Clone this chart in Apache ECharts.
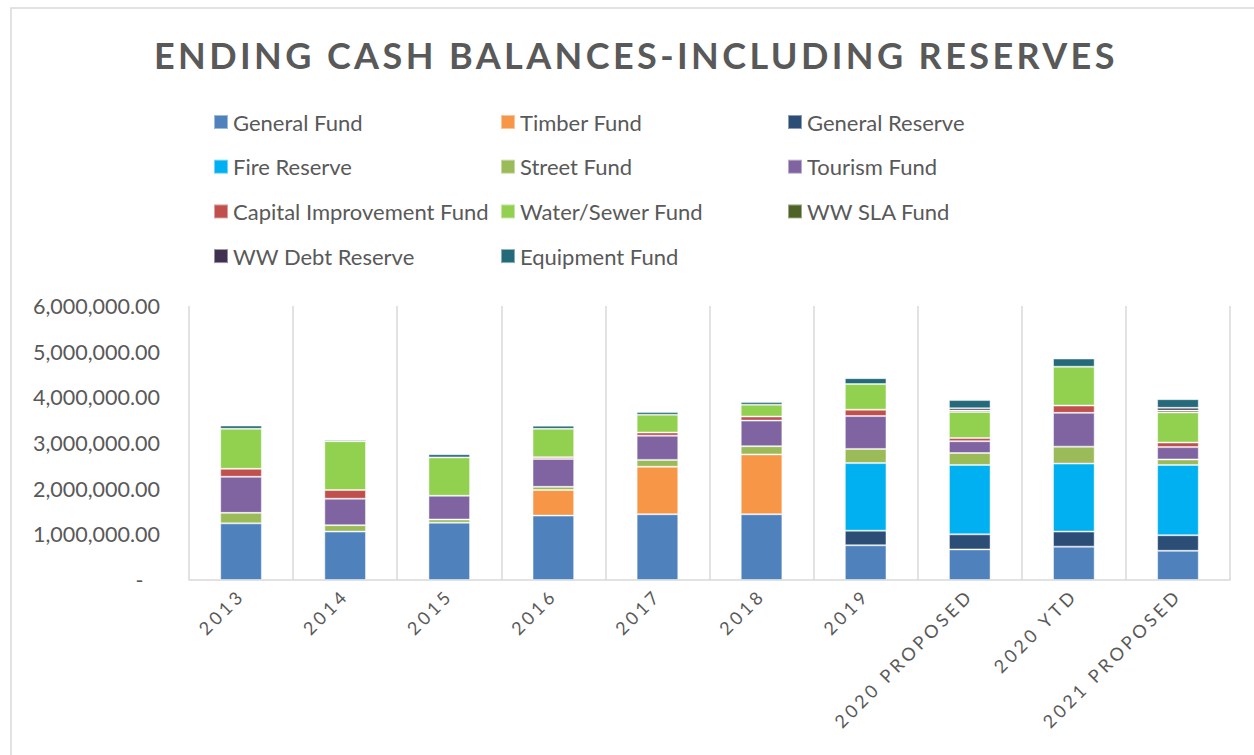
<!DOCTYPE html>
<html>
<head>
<meta charset="utf-8">
<script src="https://cdn.jsdelivr.net/npm/echarts@6/dist/echarts.min.js"></script>
<style>
  html, body { margin: 0; padding: 0; background: #fff; }
  #chart { width: 1254px; height: 755px; }
  /* Excel-style letter spacing for the title and the category labels */
  #chart text[style*="bold"] { letter-spacing: 3.4px; }
  #chart text[style*="18px"] { letter-spacing: 3.5px; }
</style>
</head>
<body>
<div id="chart"></div>
<script>
var categories = ['2013', '2014', '2015', '2016', '2017', '2018', '2019', '2020 PROPOSED', '2020 YTD', '2021 PROPOSED'];

var generalFund     = [1240000, 1060000, 1255000, 1410000, 1440000, 1440000, 760000, 670000, 730000, 640000];
var timberFund      = [null, null, null, 560000, 1040000, 1310000, null, null, null, null];
var generalReserve  = [null, null, null, null, null, null, 320000, 330000, 330000, 340000];
var fireReserve     = [null, null, null, null, null, null, 1480000, 1520000, 1490000, 1540000];
var streetFund      = [230000, 140000, 70000, 70000, 150000, 180000, 310000, 260000, 370000, 120000];
var tourismFund     = [790000, 580000, 520000, 610000, 530000, 560000, 720000, 260000, 740000, 270000];
var capitalFund     = [175000, 190000, null, 40000, 70000, 90000, 140000, 70000, 160000, 100000];
var waterSewerFund  = [876000, 1070000, 840000, 620000, 390000, 260000, 560000, 570000, 850000, 660000];
var wwSlaFund       = [null, null, null, null, null, null, null, 30000, null, 40000];
var wwDebtReserve   = [null, null, null, null, null, null, null, 50000, null, 60000];
var equipmentFund   = [70000, 30000, 70000, 70000, 60000, 60000, 130000, 180000, 180000, 190000];

var yTicks = [0, 1000000, 2000000, 3000000, 4000000, 5000000, 6000000];

var myChart = echarts.init(document.getElementById('chart'), null, { renderer: 'svg' });

var textColor = '#595959';
var fontFamily = 'Lato, "Open Sans", sans-serif';

function makeSeries(name, data, color) {
	return {
		name: name,
		type: 'bar',
		stack: 'total',
		data: data,
		barWidth: '40%',
		itemStyle: {
			color: color,
			borderColor: 'rgba(255,255,255,0.45)',
			borderWidth: 1
		}
	};
}

function makeLegend(left, names) {
	return {
		orient: 'vertical',
		left: left,
		top: 111,
		padding: 0,
		itemWidth: 14,
		itemHeight: 14,
		itemGap: 22.7,
		icon: 'rect',
		selectedMode: false,
		textStyle: { color: textColor, fontSize: 22, fontFamily: fontFamily, lineHeight: 22 },
		data: names
	};
}

var option = {
	animation: false,
	backgroundColor: '#fff',
	graphic: [{
		type: 'rect',
		shape: { x: 11, y: 8, width: 1400, height: 900 },
		style: { fill: 'none', stroke: '#d9d9d9', lineWidth: 1.5 },
		silent: true
	}],
	title: {
		text: 'ENDING CASH BALANCES-INCLUDING RESERVES',
		left: 154,
		top: 37,
		padding: 0,
		textStyle: { color: textColor, fontSize: 36, fontWeight: 'bold', fontFamily: fontFamily }
	},
	legend: [
		makeLegend(213, ['General Fund', 'Fire Reserve', 'Capital Improvement Fund', 'WW Debt Reserve']),
		makeLegend(500, ['Timber Fund', 'Street Fund', 'Water/Sewer Fund', 'Equipment Fund']),
		makeLegend(787, ['General Reserve', 'Tourism Fund', 'WW SLA Fund'])
	],
	grid: {
		left: 189,
		right: 24,
		top: 306,
		bottom: 175,
		containLabel: false
	},
	xAxis: {
		type: 'category',
		data: categories,
		axisLine: { show: true, lineStyle: { color: '#d9d9d9', width: 1.5 } },
		axisTick: { show: false },
		splitLine: { show: true, lineStyle: { color: '#d9d9d9', width: 1.5 } },
		axisLabel: {
			interval: 0,
			rotate: 45,
			margin: 12,
			color: textColor,
			fontSize: 18,
			fontFamily: fontFamily
		}
	},
	yAxis: {
		type: 'value',
		min: yTicks[0],
		max: yTicks[yTicks.length - 1],
		interval: yTicks[1] - yTicks[0],
		axisLine: { show: false },
		axisTick: { show: false },
		splitLine: { show: false },
		axisLabel: {
			margin: 29,
			color: textColor,
			fontSize: 21.5,
			fontFamily: fontFamily,
			formatter: function (v) {
				if (v === 0) return '-   ';
				return v.toLocaleString('en-US', { minimumFractionDigits: 2, maximumFractionDigits: 2 });
			}
		}
	},
	series: [
		makeSeries('General Fund', generalFund, '#4f81bd'),
		makeSeries('Timber Fund', timberFund, '#f79646'),
		makeSeries('General Reserve', generalReserve, '#2c4d75'),
		makeSeries('Fire Reserve', fireReserve, '#00b0f0'),
		makeSeries('Street Fund', streetFund, '#9bbb59'),
		makeSeries('Tourism Fund', tourismFund, '#8064a2'),
		makeSeries('Capital Improvement Fund', capitalFund, '#c0504d'),
		makeSeries('Water/Sewer Fund', waterSewerFund, '#92d050'),
		makeSeries('WW SLA Fund', wwSlaFund, '#4f6228'),
		makeSeries('WW Debt Reserve', wwDebtReserve, '#403151'),
		makeSeries('Equipment Fund', equipmentFund, '#256a7a')
	]
};

myChart.setOption(option);
</script>
</body>
</html>
